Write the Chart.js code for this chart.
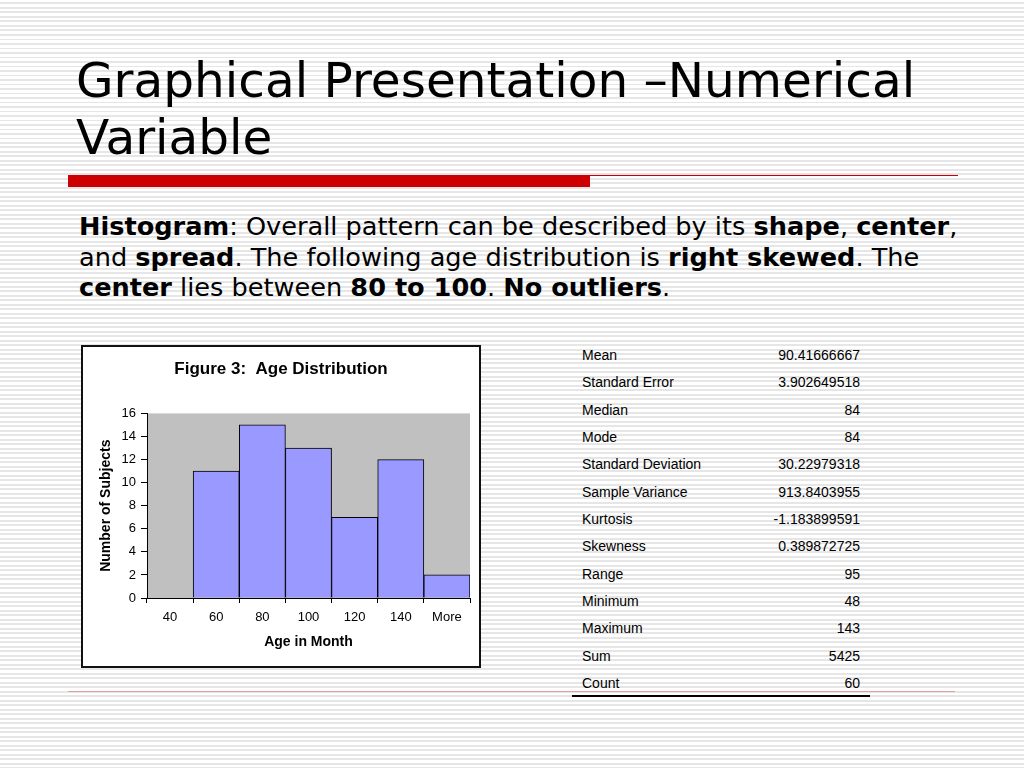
<!DOCTYPE html>
<html>
<head>
<meta charset="utf-8">
<script src="https://cdn.jsdelivr.net/npm/chart.js@4.4.0/dist/chart.umd.min.js"></script>
<style>
  html, body { margin: 0; padding: 0; }
  body {
    width: 1024px; height: 768px; position: relative; overflow: hidden;
    background: repeating-linear-gradient(to bottom, #ffffff 0px, #ffffff 2.5px, #e6e6e6 2.5px, #e6e6e6 4.5px);
    font-family: "DejaVu Sans", Verdana, sans-serif;
  }
  #title {
    position: absolute; left: 76px; top: 52px; width: 940px;
    font-size: 48.5px; line-height: 57px; color: #000;
  }
  #redbar { position: absolute; left: 68px; top: 175px; width: 522px; height: 12px; background: #cc0000; }
  #redline { position: absolute; left: 590px; top: 175px; width: 368px; height: 1px; background: #cc0000; }
  #body {
    position: absolute; left: 79px; top: 211px; width: 940px;
    font-size: 25.6px; line-height: 30.5px; color: #000; white-space: nowrap;
  }
  #chartbox {
    position: absolute; left: 81px; top: 345px; width: 396px; height: 319px;
    border: 2px solid #111; background: #fff;
  }
  #chartwrap { position: relative; width: 396px; height: 319px; }
  #stats {
    position: absolute; left: 582px; top: 342px; width: 278px;
    font-family: "Liberation Sans", Arial, sans-serif; font-size: 14px; color: #000;
  }
  .row { height: 27.33px; line-height: 27.33px; position: relative; }
  .row .v { position: absolute; right: 0; top: 0; }
  #tblline { position: absolute; left: 572px; top: 695px; width: 298px; height: 2px; background: #000; }
  #footline { position: absolute; left: 68px; top: 691px; width: 887px; height: 1px; background: #e0a0a0; }
</style>
</head>
<body>
<div id="title">Graphical Presentation –Numerical Variable</div>
<div id="redbar"></div>
<div id="redline"></div>
<div id="body"><b>Histogram</b>: Overall pattern can be described by its <b>shape</b>, <b>center</b>,<br>and <b>spread</b>. The following age distribution is <b>right skewed</b>. The<br><b>center</b> lies between <b>80 to 100</b>. <b>No outliers</b>.</div>
<div id="footline"></div>
<div id="chartbox"><div id="chartwrap"><canvas id="histChart"></canvas></div></div>
<div id="stats"></div>
<div id="tblline"></div>
<script>
var bins = ['40', '60', '80', '100', '120', '140', 'More'];
var counts = [0, 11, 15, 13, 7, 12, 2];
var statNames = ['Mean', 'Standard Error', 'Median', 'Mode', 'Standard Deviation', 'Sample Variance',
    'Kurtosis', 'Skewness', 'Range', 'Minimum', 'Maximum', 'Sum', 'Count'];
var statValues = ['90.41666667', '3.902649518', '84', '84', '30.22979318', '913.8403955',
    '-1.183899591', '0.389872725', '95', '48', '143', '5425', '60'];

var stats = document.getElementById('stats');
for (var i = 0; i < statNames.length; i++) {
    var row = document.createElement('div');
    row.className = 'row';
    var n = document.createElement('span');
    n.textContent = statNames[i];
    var v = document.createElement('span');
    v.className = 'v';
    v.textContent = statValues[i];
    row.appendChild(n);
    row.appendChild(v);
    stats.appendChild(row);
}

// grey plot background like the Excel chart
var plotBg = {
    id: 'plotBg',
    beforeDraw: function (chart) {
        var a = chart.chartArea;
        var c = chart.ctx;
        c.save();
        c.fillStyle = '#c0c0c0';
        c.fillRect(a.left, a.top, a.right - a.left, a.bottom - a.top);
        c.restore();
    }
};

var ctx = document.getElementById('histChart').getContext('2d');
var histChart = new Chart(ctx, {
    type: 'bar',
    data: {
        labels: bins,
        datasets: [
            {
                label: 'Frequency',
                data: counts,
                backgroundColor: '#9999ff',
                borderColor: '#000000',
                borderWidth: 1,
                barPercentage: 1,
                categoryPercentage: 1
            }
        ]
    },
    options: {
        responsive: true,
        maintainAspectRatio: false,
        animation: false,
        layout: {
            padding: 0
        },
        plugins: {
            legend: { display: false },
            tooltip: { enabled: false },
            title: {
                display: true,
                text: 'Figure 3:  Age Distribution',
                color: '#000',
                font: { family: 'Liberation Sans, Arial', size: 17, weight: 'bold' },
                padding: { top: 12, bottom: 34 }
            }
        },
        scales: {
            x: {
                afterFit: function (s) { s.height = 68; s.paddingRight = 9; },
                grid: {
                    drawOnChartArea: false,
                    tickLength: 5,
                    color: '#000'
                },
                border: { color: '#000', width: 1 },
                ticks: {
                    color: '#000',
                    padding: 7,
                    maxRotation: 0,
                    font: { family: 'Liberation Sans, Arial', size: 13 }
                },
                title: {
                    display: true,
                    text: 'Age in Month',
                    color: '#000',
                    font: { family: 'Liberation Sans, Arial', size: 14, weight: 'bold' },
                    padding: { top: 0, bottom: 15 }
                }
            },
            y: {
                min: 0,
                max: 16,
                afterFit: function (s) { s.width = 64; },
                grid: {
                    drawOnChartArea: false,
                    tickLength: 6,
                    color: '#000'
                },
                border: { color: '#000', width: 1 },
                ticks: {
                    stepSize: 2,
                    color: '#000',
                    padding: 5,
                    font: { family: 'Liberation Sans, Arial', size: 13 }
                },
                title: {
                    display: true,
                    text: 'Number of Subjects',
                    color: '#000',
                    font: { family: 'Liberation Sans, Arial', size: 14, weight: 'bold' },
                    padding: { top: 14.5, bottom: 0 }
                }
            }
        }
    },
    plugins: [plotBg]
});
</script>
</body>
</html>
